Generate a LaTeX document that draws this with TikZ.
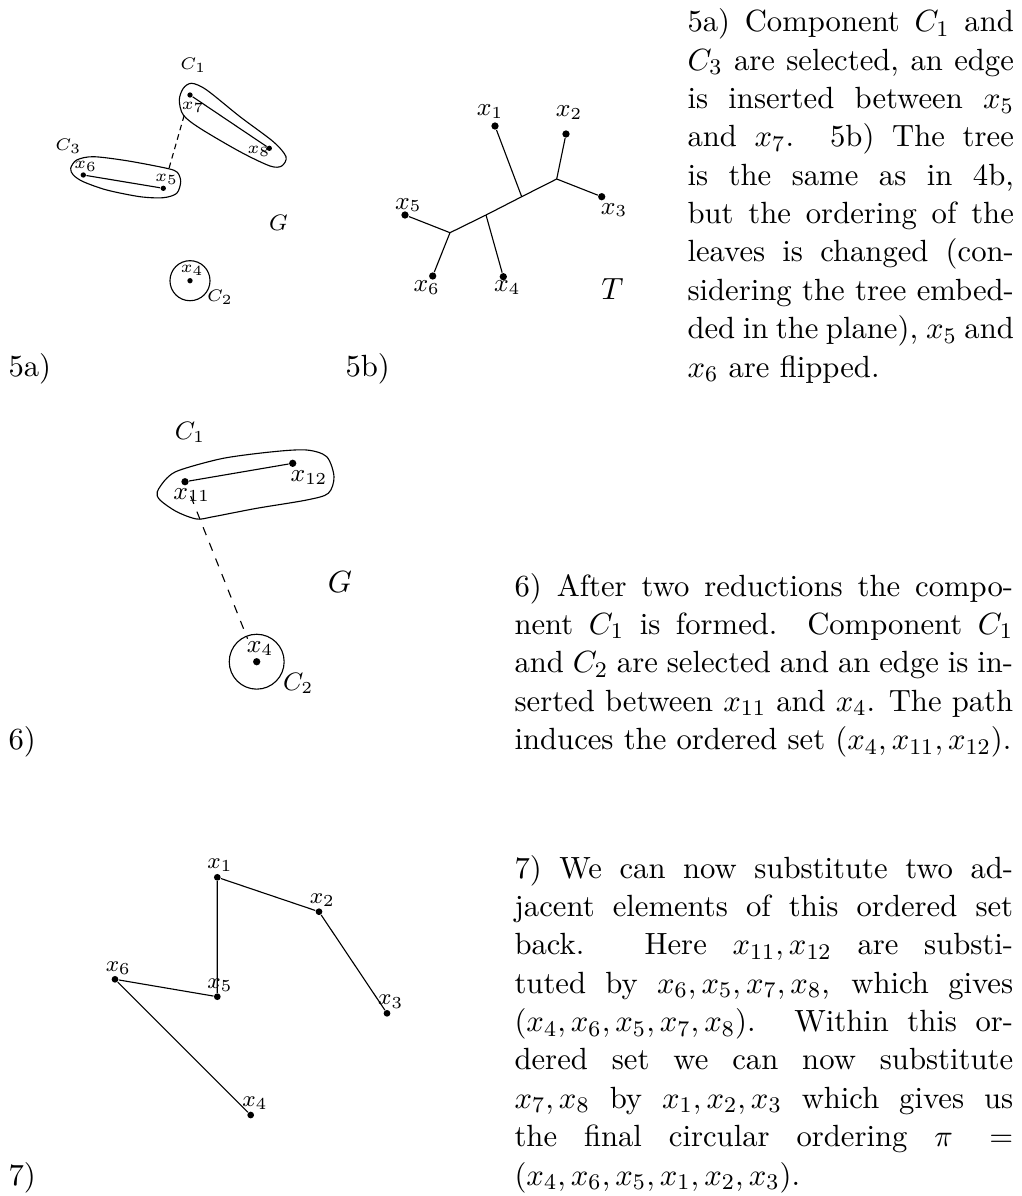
\documentclass[tikz,border=0pt]{standalone}
\usetikzlibrary{positioning}

\begin{document}
\begin{tikzpicture}[
        x=0.357pt, y=-0.357pt,
        vtx/.style={circle, fill=black, inner sep=0pt, minimum size=#1},
        vtx/.default=2.5pt,
        lab/.style={inner sep=0pt, font=\fontsize{#1}{#1}\selectfont},
        lab/.default=9,
        ring/.style={draw, circle, inner sep=0pt, minimum size=#1},
        desc/.style={anchor=base west, inner sep=0pt, font=\fontsize{10.95}{13.7}\selectfont},
    ]
        \useasboundingbox (0,0) rectangle (1021,1196);

        % 5a) graph G, components C1, C2, C3
        \node[vtx=1.9pt] (a7) at (190,95) {};
        \node[vtx=1.9pt] (a8) at (269.3,148.3) {};
        \node[vtx=1.9pt] (a6) at (83.3,175) {};
        \node[vtx=1.9pt] (a5) at (163.3,188.3) {};
        \node[vtx=1.9pt] (a4) at (190,280.7) {};
        \node[ring=14.3pt] (ca2) at (a4) {};
        \draw (a6) -- (a5);
        \draw (a7) -- (a8);
        \draw[dash pattern=on 2pt off 1.5pt, shorten <=6.4pt, shorten >=5.2pt] (a5) -- (a7);
        \draw plot[smooth cycle] coordinates {(191.7,83.3) (206.7,90) (240,116.7) (273.3,141.7) (286,156.7) (281.7,166) (270,166) (240,151.7) (200,128.3) (183.3,115) (179.3,100) (183.3,88.3)};
        \draw plot[smooth cycle] coordinates {(70.7,168.3) (76.7,160) (93.3,156.7) (126.7,160.7) (166.7,168.3) (177.3,172.3) (180.7,181.7) (176.7,193.3) (163.3,197.7) (140,196.7) (106.7,190) (83.3,181.7) (73.3,175)};
        \node[lab=6.5] (la7) at (193.3,107.3) {$x_7$};
        \node[lab=6.5] (la8) at (259,151.7) {$x_8$};
        \node[lab=6.5] (la6) at (85.7,166) {$x_6$};
        \node[lab=6.5] (la5) at (166.7,179.3) {$x_5$};
        \node[lab=6.5] (la4) at (192.3,270.7) {$x_4$};
        \node[lab=6.5] (lc1) at (193.3,65) {$C_1$};
        \node[lab=6.5] (lc3) at (68.3,146) {$C_3$};
        \node[lab=6.5] (lc2) at (220,297.3) {$C_2$};
        \node[lab=7.6] (lga) at (278.3,222.7) {$G$};
        \node[desc] (cap5a) at (8,376) {5a)};

        % 5b) tree T
        \node[vtx=2.6pt] (b1) at (495,126) {};
        \node[vtx=2.6pt] (b2) at (566,134) {};
        \node[vtx=2.6pt] (b3) at (601.7,196.7) {};
        \node[vtx=2.6pt] (b5) at (405,215) {};
        \node[vtx=2.6pt] (b6) at (432.7,276) {};
        \node[vtx=2.6pt] (b4) at (503.3,276.7) {};
        \coordinate (ba) at (450,232.7);
        \coordinate (bb) at (486,215);
        \coordinate (bc) at (521.7,196.7);
        \coordinate (bd) at (556.7,179);
        \draw (b5) -- (ba) -- (b6);
        \draw (ba) -- (bb) -- (bc) -- (bd);
        \draw (bb) -- (b4);
        \draw (bc) -- (b1);
        \draw (bd) -- (b2);
        \draw (bd) -- (b3);
        \node[lab=8.9] (lb1) at (490,111.7) {$x_1$};
        \node[lab=8.9] (lb2) at (569,112.3) {$x_2$};
        \node[lab=8.9] (lb3) at (614,210) {$x_3$};
        \node[lab=8.9] (lb5) at (408.3,205) {$x_5$};
        \node[lab=8.9] (lb6) at (426.7,287.3) {$x_6$};
        \node[lab=8.9] (lb4) at (507.3,287.3) {$x_4$};
        \node[lab=10.5] (lt) at (612.5,289) {$T$};
        \node[desc] (cap5b) at (345,376) {5b)};

        % 6) after two reductions
        \node[vtx=2.6pt] (c11) at (185,481.7) {};
        \node[vtx=2.6pt] (c12) at (292.7,463.3) {};
        \node[vtx=2.6pt] (c4) at (256.7,661.7) {};
        \node[ring=19.6pt] (cc2) at (c4) {};
        \draw (c11) -- (c12);
        \draw[dashed, shorten <=4pt, shorten >=7.3pt] (c11) -- (c4);
        \draw plot[smooth cycle] coordinates {(157.3,491.7) (166.7,478.3) (180,470) (223.3,458.3) (273.3,451.7) (306.7,450) (326.7,456.7) (334,476.7) (328.3,493.3) (306.7,500) (256.7,508.3) (213.3,516.7) (196.7,519) (176.7,511.7) (160,500)};
        \node[lab=9] (lc11) at (191.7,495) {$x_{11}$};
        \node[lab=9] (lc12) at (309,477.3) {$x_{12}$};
        \node[lab=9] (lc4) at (260,648.7) {$x_4$};
        \node[lab=9] (lcc1) at (190,432.3) {$C_1$};
        \node[lab=9] (lcc2) at (298.3,683.3) {$C_2$};
        \node[lab=10.6] (lgc) at (340,581.7) {$G$};
        \node[desc] (cap6) at (8,749) {6)};

        % 7) final path
        \node[vtx=2.4pt] (d1) at (217.3,877.3) {};
        \node[vtx=2.4pt] (d2) at (319,911.7) {};
        \node[vtx=2.4pt] (d3) at (387,1013.3) {};
        \node[vtx=2.4pt] (d5) at (217.3,996.7) {};
        \node[vtx=2.4pt] (d6) at (115,979.3) {};
        \node[vtx=2.4pt] (d4) at (250.7,1115) {};
        \draw (d5) -- (d1) -- (d2) -- (d3);
        \draw (d5) -- (d6) -- (d4);
        \node[lab=8.4] (ld1) at (220,865) {$x_1$};
        \node[lab=8.4] (ld2) at (322.3,900) {$x_2$};
        \node[lab=8.4] (ld3) at (390.7,1001.7) {$x_3$};
        \node[lab=8.4] (ld6) at (118.3,968.3) {$x_6$};
        \node[lab=8.4] (ld5) at (220,985) {$x_5$};
        \node[lab=8.4] (ld4) at (255,1103.3) {$x_4$};
        \node[desc] (cap7) at (8,1185) {7)};

        % explanations
        \node[desc] (txt5) at (687,31.7) {\parbox[t]{116.5pt}{5a) Component $C_1$ and\linebreak
            $C_3$ are selected, an edge\linebreak
            is inserted between $x_5$\linebreak
            and $x_7$.  5b) The tree\linebreak
            is the same as in 4b,\linebreak
            but the ordering of the\linebreak
            leaves is changed (con-\linebreak
            sidering the tree embed-\linebreak
            ded in the plane), $x_5$ and\linebreak
            $x_6$ are flipped.}};
        \node[desc] (txt6) at (514,596) {\parbox[t]{178pt}{6) After two reductions the compo-\linebreak
            nent $C_1$ is formed. Component $C_1$\linebreak
            and $C_2$ are selected and an edge is in-\linebreak
            serted between $x_{11}$ and $x_4$. The path\linebreak
            induces the ordered set $(x_4, x_{11}, x_{12})$.}};
        \node[desc] (txt7) at (514,878) {\parbox[t]{178pt}{7) We can now substitute two ad-\linebreak
            jacent elements of this ordered set\linebreak
            back. Here $x_{11}, x_{12}$ are substi-\linebreak
            tuted by $x_6, x_5, x_7, x_8$, which gives\linebreak
            $(x_4, x_6, x_5, x_7, x_8)$. Within this or-\linebreak
            dered set we can now substitute\linebreak
            $x_7, x_8$ by $x_1, x_2, x_3$ which gives us\linebreak
            the final circular ordering $\pi =$\linebreak
            $(x_4, x_6, x_5, x_1, x_2, x_3)$.}};
    \end{tikzpicture}
\end{document}
